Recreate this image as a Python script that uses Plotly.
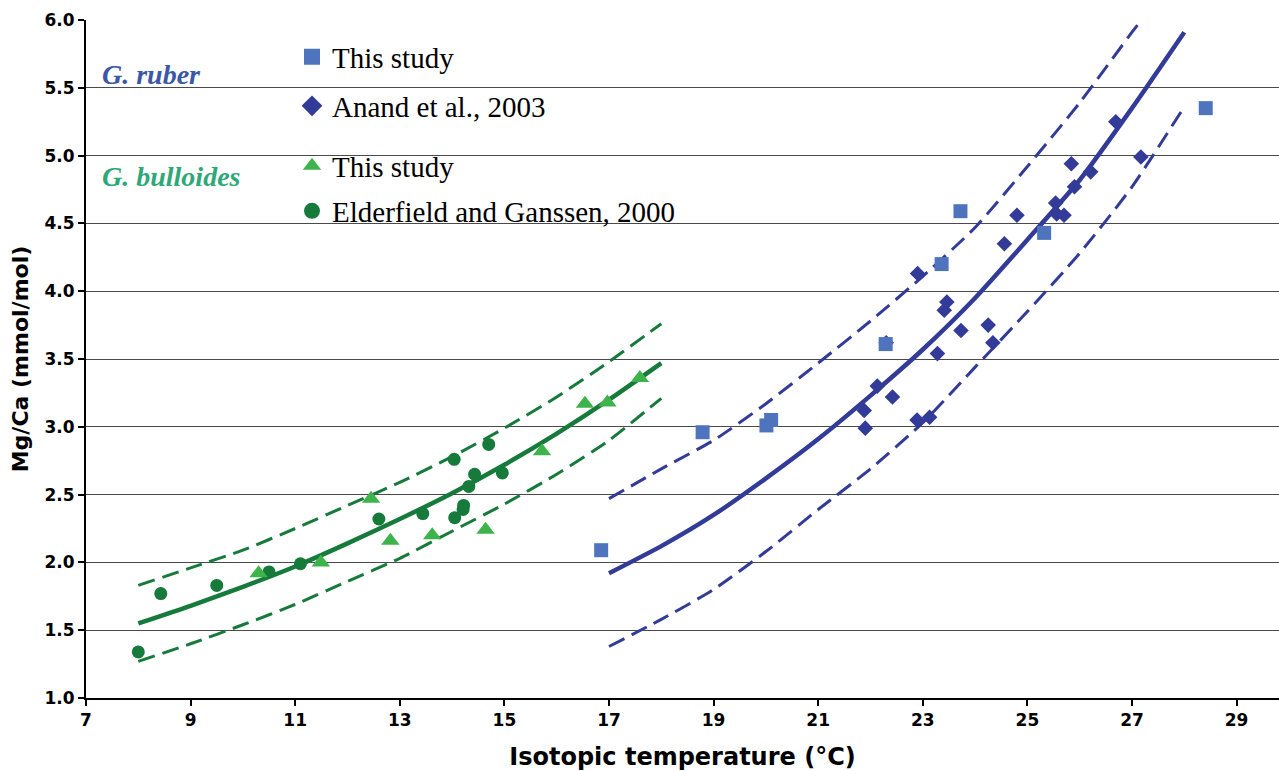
import plotly.graph_objects as go

# ---------------- data ----------------
# G. ruber, this study (squares)
ruber_this_T = [16.85, 18.79, 20.01, 20.10, 22.29, 23.36, 23.72, 25.32, 28.41]
ruber_this_mg = [2.09, 2.96, 3.01, 3.05, 3.61, 4.20, 4.59, 4.43, 5.35]

# G. ruber, Anand et al., 2003 (diamonds)
anand_T = [21.88, 21.90, 22.13, 22.30, 22.42, 22.89, 22.90, 23.13, 23.28, 23.41, 23.46, 23.73,
           24.25, 24.34, 24.56, 24.80, 25.54, 25.56, 25.70, 25.84, 25.90, 26.21, 26.69, 27.17]
anand_mg = [3.12, 2.99, 3.30, 3.62, 3.22, 3.05, 4.13, 3.07, 3.54, 3.86, 3.92, 3.71,
            3.75, 3.62, 4.35, 4.56, 4.65, 4.57, 4.56, 4.94, 4.77, 4.88, 5.25, 4.99]

# G. bulloides, this study (triangles)
bull_this_T = [10.30, 11.49, 12.45, 12.82, 13.62, 14.64, 15.72, 16.54, 16.97, 17.59]
bull_this_mg = [1.92, 2.00, 2.47, 2.16, 2.20, 2.24, 2.82, 3.17, 3.18, 3.36]

# G. bulloides, Elderfield and Ganssen, 2000 (circles)
elder_T = [8.00, 8.43, 9.50, 10.50, 11.10, 12.60, 13.44, 14.04, 14.05, 14.21, 14.22, 14.32, 14.43, 14.70, 14.96]
elder_mg = [1.34, 1.77, 1.83, 1.93, 1.99, 2.32, 2.36, 2.76, 2.33, 2.39, 2.42, 2.56, 2.65, 2.87, 2.66]

# calibration curves
bull_curve_T = [8, 9, 10, 11, 12, 13, 14, 15, 16, 17, 18]
bull_fit = [1.55, 1.68, 1.82, 1.97, 2.14, 2.32, 2.51, 2.72, 2.95, 3.20, 3.47]
bull_upper = [1.83, 1.96, 2.09, 2.25, 2.42, 2.59, 2.78, 2.99, 3.22, 3.48, 3.76]
bull_lower = [1.27, 1.40, 1.54, 1.69, 1.86, 2.03, 2.23, 2.43, 2.65, 2.90, 3.21]

ruber_curve_T = [17, 18, 19, 20, 21, 22, 23, 24, 25, 26, 27, 28]
ruber_fit = [1.92, 2.12, 2.35, 2.62, 2.91, 3.23, 3.57, 3.95, 4.38, 4.82, 5.35, 5.91]
ruber_lower = [1.38, 1.58, 1.80, 2.08, 2.39, 2.69, 3.03, 3.44, 3.85, 4.28, 4.77, 5.36]
ruber_upper_T = [17, 18, 19, 20, 21, 22, 23, 24, 25, 26, 27, 27.26]
ruber_upper = [2.47, 2.69, 2.90, 3.17, 3.47, 3.78, 4.11, 4.47, 4.92, 5.39, 5.91, 6.04]

x_ticks = [7, 9, 11, 13, 15, 17, 19, 21, 23, 25, 27, 29]
y_ticks = [1.0, 1.5, 2.0, 2.5, 3.0, 3.5, 4.0, 4.5, 5.0, 5.5, 6.0]

legend_labels = ["This study", "Anand et al., 2003", "This study", "Elderfield and Ganssen, 2000"]

# ---------------- styles ----------------
C_SQUARE = "#4f74be"
C_BLUE = "#333b98"
C_TRI = "#3db34b"
C_GREEN = "#167a3b"
DASH = "17px,8px"

fig = go.Figure()

def line(x, y, color, dash=None, width=4):
    fig.add_trace(go.Scatter(x=x, y=y, mode="lines", showlegend=False, hoverinfo="skip",
                             line=dict(color=color, width=width, dash=dash, shape="spline", smoothing=0.6)))

line(bull_curve_T, bull_upper, C_GREEN, DASH, 3)
line(bull_curve_T, bull_lower, C_GREEN, DASH, 3)
line(bull_curve_T, bull_fit, C_GREEN, None, 4.5)
line(ruber_upper_T, ruber_upper, C_BLUE, DASH, 3)
line(ruber_curve_T, ruber_lower, C_BLUE, DASH, 3)
line(ruber_curve_T, ruber_fit, C_BLUE, None, 4.5)

fig.add_trace(go.Scatter(x=elder_T, y=elder_mg, mode="markers", showlegend=False,
                         marker=dict(symbol="circle", size=13, color=C_GREEN)))
fig.add_trace(go.Scatter(x=bull_this_T, y=bull_this_mg, mode="markers", showlegend=False,
                         marker=dict(symbol="triangle-up", size=16, color=C_TRI)))
fig.add_trace(go.Scatter(x=anand_T, y=anand_mg, mode="markers", showlegend=False,
                         marker=dict(symbol="diamond", size=12, color=C_BLUE)))
fig.add_trace(go.Scatter(x=ruber_this_T, y=ruber_this_mg, mode="markers", showlegend=False,
                         marker=dict(symbol="square", size=14, color=C_SQUARE)))

# legend entries (one legend per entry so each can be placed like the original)
leg_specs = [("square", C_SQUARE, "legend"), ("diamond", C_BLUE, "legend2"),
             ("triangle-up", C_TRI, "legend3"), ("circle", C_GREEN, "legend4")]
for (sym, col, lg), lab in zip(leg_specs, legend_labels):
    fig.add_trace(go.Scatter(x=[None], y=[None], mode="markers", name=lab, legend=lg,
                             marker=dict(symbol=sym, size=16, color=col)))

PX_L, PX_R, PX_T, PX_B = 86, 1279, 20, 698
W = PX_R - PX_L
H = PX_B - PX_T

def px(xp):
    return (xp - PX_L) / W

def py(yp):
    return (PX_B - yp) / H

leg_font = dict(family="Liberation Serif", size=29, color="black")
leg_common = dict(xanchor="left", yanchor="middle", bgcolor="rgba(0,0,0,0)", borderwidth=0,
                  font=leg_font, itemclick=False, itemdoubleclick=False)
legend_y = [57, 106, 166, 211]
fig.update_layout(
    legend=dict(x=px(292), y=py(legend_y[0]), **leg_common),
    legend2=dict(x=px(292), y=py(legend_y[1]), **leg_common),
    legend3=dict(x=px(292), y=py(legend_y[2]), **leg_common),
    legend4=dict(x=px(292), y=py(legend_y[3]), **leg_common),
)

fig.add_annotation(text="<b><i>G. ruber</i></b>", x=px(100), y=py(74), xref="paper", yref="paper",
                   xanchor="left", yanchor="middle", showarrow=False,
                   font=dict(family="Liberation Serif", size=28, color="#3b57a7"))
fig.add_annotation(text="<b><i>G. bulloides</i></b>", x=px(100), y=py(176), xref="paper", yref="paper",
                   xanchor="left", yanchor="middle", showarrow=False,
                   font=dict(family="Liberation Serif", size=28, color="#2fa878"))

tick_font = dict(family="DejaVu Sans", size=17, color="black", weight="bold")
fig.update_xaxes(range=[7, 7 + W / 52.3], tickvals=x_ticks, ticktext=[str(v) for v in x_ticks],
                 showgrid=False, zeroline=False, showline=True, linecolor="black", linewidth=2,
                 ticks="outside", ticklen=6, tickwidth=2, tickcolor="black", tickfont=tick_font,
                 title=dict(text="Isotopic temperature (°C)", standoff=21,
                            font=dict(family="DejaVu Sans", size=24, color="black", weight="bold")))
fig.update_yaxes(range=[1, 6], tickvals=y_ticks, ticktext=[f"{v:.1f}" for v in y_ticks],
                 showgrid=True, gridcolor="#4a4a4a", gridwidth=1, zeroline=False,
                 showline=True, linecolor="black", linewidth=2,
                 ticks="outside", ticklen=6, tickwidth=2, tickcolor="black", tickfont=tick_font,
                 title=dict(text="Mg/Ca (mmol/mol)", standoff=10,
                            font=dict(family="DejaVu Sans", size=22, color="black", weight="bold")))

fig.update_layout(width=1279, height=771, autosize=False,
                  margin=dict(l=PX_L, r=1279 - PX_R, t=PX_T, b=771 - PX_B, autoexpand=False),
                  paper_bgcolor="white", plot_bgcolor="white", hovermode=False)

fig.write_html("out.html")
